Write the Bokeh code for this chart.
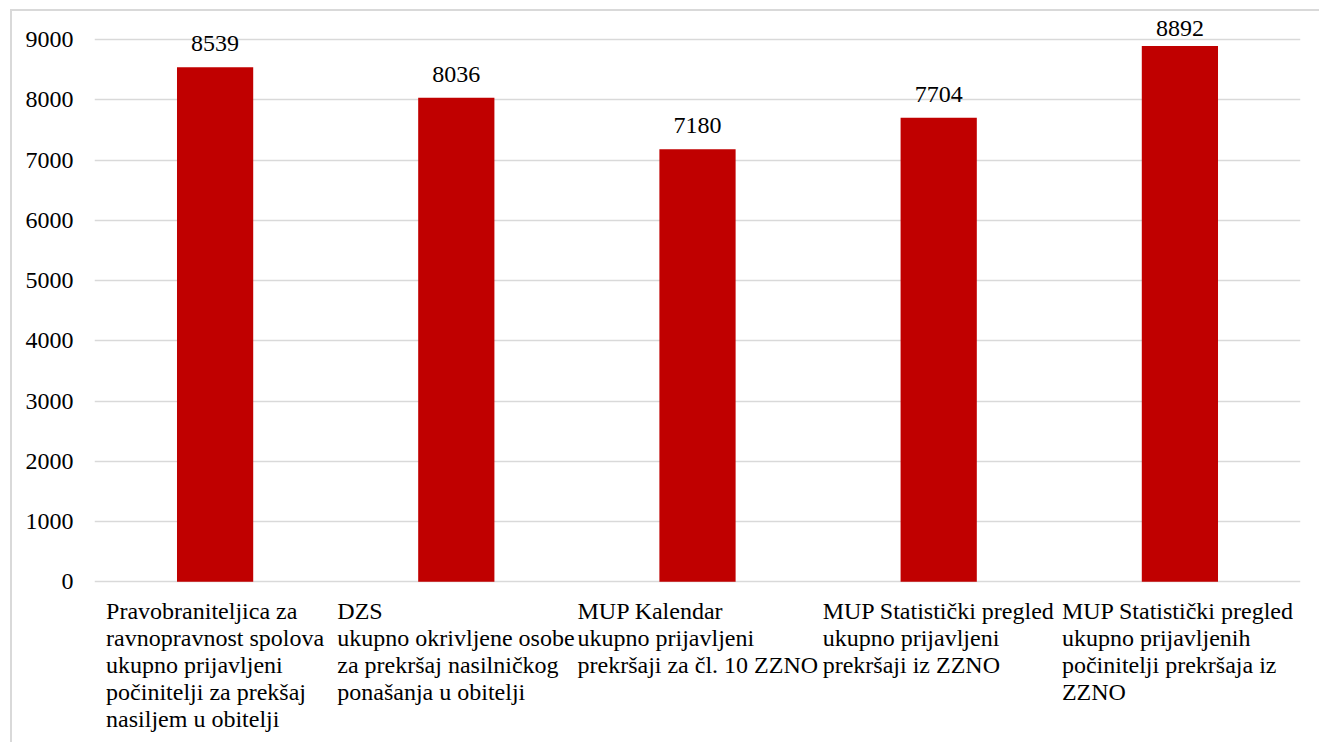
from bokeh.plotting import figure
from bokeh.models import ColumnDataSource, LabelSet, FactorRange, Range1d, FixedTicker
from bokeh.core.properties import value
from bokeh.embed import file_html
from bokeh.resources import INLINE

categories = [
    "Pravobraniteljica za\nravnopravnost spolova\nukupno prijavljeni\npočinitelji za prekšaj\nnasiljem u obitelji",
    "DZS\nukupno okrivljene osobe\nza prekršaj nasilničkog\nponašanja u obitelji",
    "MUP Kalendar\nukupno prijavljeni\nprekršaji za čl. 10 ZZNO",
    "MUP Statistički pregled\nukupno prijavljeni\nprekršaji iz ZZNO",
    "MUP Statistički pregled\nukupno prijavljenih\npočinitelji prekršaja iz\nZZNO",
]
values = [8539, 8036, 7180, 7704, 8892]
y_ticks = [0, 1000, 2000, 3000, 4000, 5000, 6000, 7000, 8000, 9000]

# layout: half-width of each centered, left-aligned label block (px)
label_shift = [-109, -119, -120, -116, -118]

FONT = "'Liberation Serif', 'Times New Roman', serif"
BAR = "#C00000"
GRID = "#d9d9d9"

Y0, Y1 = -2700, 9400
FRAME_H = 729
PX = FRAME_H / (Y1 - Y0)
# value labels sit 16px above the bar, but are pushed down to stay inside the plot (like Excel)
val_offset = [min(16, (Y1 - v) * PX - 21) for v in values]

p = figure(
    width=1309, height=733,
    x_range=FactorRange(*categories, range_padding=0),
    y_range=Range1d(Y0, Y1),
    output_backend="svg", toolbar_location=None,
    min_border_left=82, min_border_right=21,
    min_border_top=4, min_border_bottom=0,
    styles={
        "margin-left": "10px", "margin-top": "9px",
        "border-left": "2px solid #d9d9d9", "border-top": "2px solid #d9d9d9",
    },
)
p.outline_line_color = None
p.xgrid.grid_line_color = None
p.ygrid.grid_line_color = GRID
p.ygrid.grid_line_width = 1.5
p.ygrid.ticker = FixedTicker(ticks=y_ticks)
p.xaxis.visible = False

p.yaxis.ticker = FixedTicker(ticks=y_ticks)
p.yaxis.axis_line_color = None
p.yaxis.major_tick_line_color = None
p.yaxis.minor_tick_line_color = None
p.yaxis.major_tick_out = 0
p.yaxis.major_label_standoff = 21
p.yaxis.major_label_text_font = FONT
p.yaxis.major_label_text_font_size = "24px"
p.yaxis.major_label_text_color = "#000000"

src = ColumnDataSource(dict(
    x=categories,
    top=values,
    txt=[str(v) for v in values],
    zero=[0] * len(values),
    shift=label_shift,
    voff=val_offset,
))

p.vbar(x="x", top="top", width=0.316, source=src, fill_color=BAR, line_color=None)

p.add_layout(LabelSet(
    x="x", y="top", text="txt", source=src,
    text_align="center", text_baseline="alphabetic", y_offset="voff",
    text_font=value(FONT), text_font_size="24px", text_color="#000000",
))

p.add_layout(LabelSet(
    x="x", y="zero", text="x", source=src,
    text_align="left", text_baseline="top", x_offset="shift", y_offset=-16,
    text_font=value(FONT), text_font_size="24px", text_color="#000000",
    text_line_height=1.04,
))

open("out.html", "w").write(file_html(p, INLINE))
